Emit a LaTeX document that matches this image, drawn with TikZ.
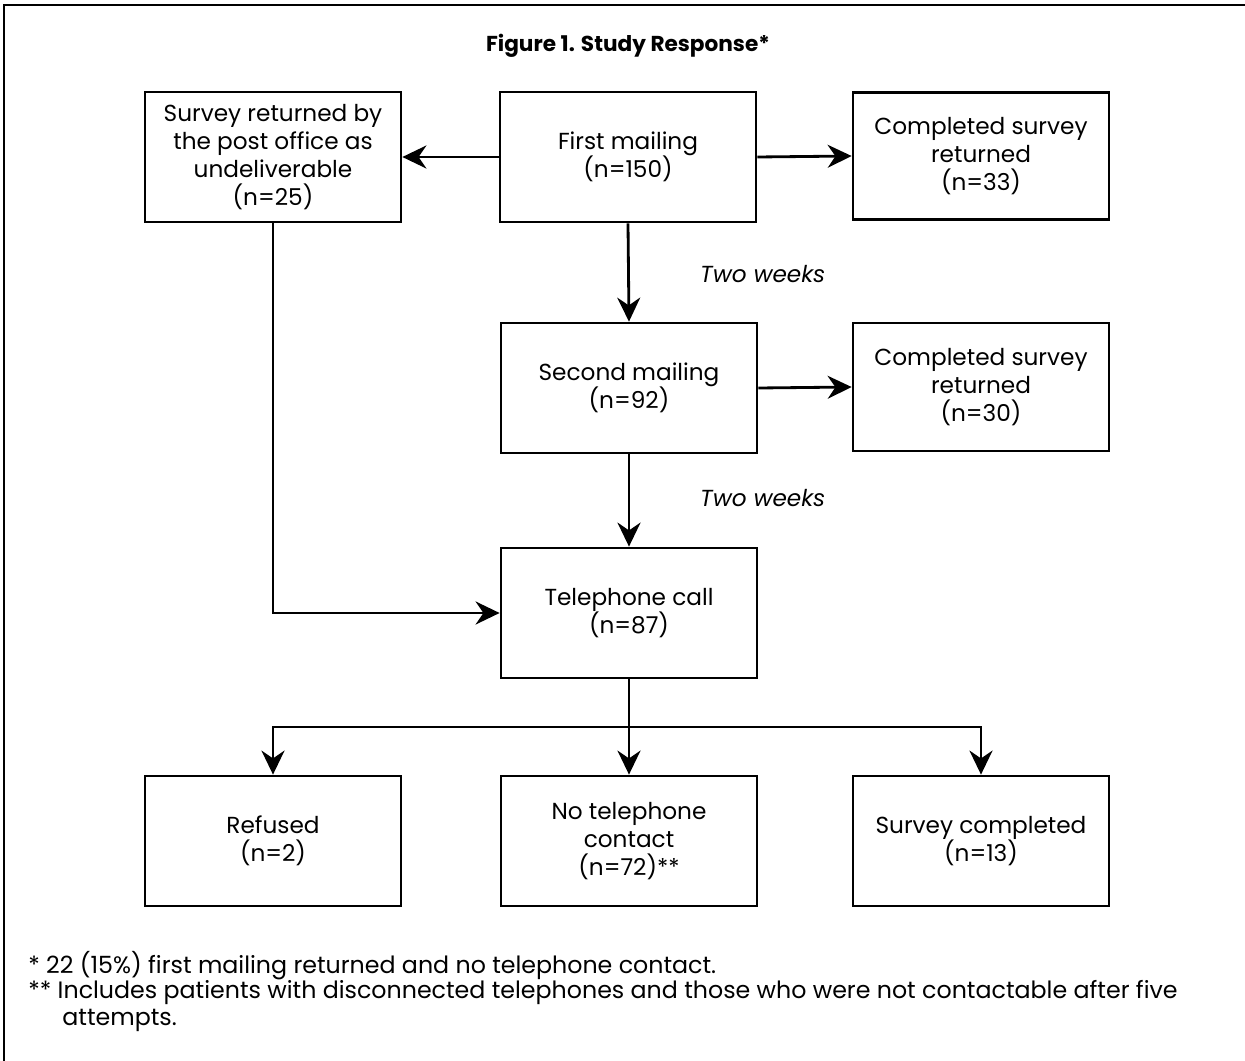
\documentclass[tikz,border=0pt]{standalone}
\usepackage{fontspec}
\setmainfont{Poppins}
\usetikzlibrary{arrows.meta}

\tikzset{
  flowbox/.style={draw, line width=1.6pt, minimum width=5.12cm, minimum height=2.6cm,
    align=center, inner sep=0pt, font=\fontsize{13.2}{16}\selectfont},
  flowarrow/.style={-{Stealth[length=4.8mm,width=4.6mm]}, line width=1.6pt},
  weeklabel/.style={anchor=west, font=\fontsize{13.2}{16}\selectfont\itshape},
  footlabel/.style={anchor=west, inner sep=0pt, font=\fontsize{13.5}{15}\selectfont}
}

\begin{document}
\begin{tikzpicture}[x=0.02cm, y=-0.02cm]
\useasboundingbox (0,0) rectangle (1245,1061);

% Frame (top and left only)
\draw[line width=1.3pt] (4,1061) -- (4,5) -- (1245,5);

% Title
\node[font=\fontsize{12.3}{14}\selectfont\bfseries] (title) at (628,46) {Figure 1. Study Response*};

% Boxes
\node[flowbox] (undeliv) at (273,157) {Survey returned by\\the post office as\\undeliverable\\(n=25)};
\node[flowbox] (first) at (628,157) {First mailing\\(n=150)};
\node[flowbox, minimum height=2.54cm] (compA) at (981,156) {Completed survey\\returned\\(n=33)};
\node[flowbox] (second) at (629,388) {Second mailing\\(n=92)};
\node[flowbox, minimum height=2.56cm] (compB) at (981,387) {Completed survey\\returned\\(n=30)};
\node[flowbox] (phone) at (629,613) {Telephone call\\(n=87)};
\node[flowbox] (refused) at (273,841) {Refused\\(n=2)};
\node[flowbox] (nocontact) at (629,841) {No telephone\\contact\\(n=72)**};
\node[flowbox] (done) at (981,841) {Survey completed\\(n=13)};

% Connectors
\draw[flowarrow] (first.west) -- (undeliv.east);
\draw[flowarrow] (first.east) -- (compA.west);
\draw[flowarrow] (first.south) -- (second.north);
\draw[flowarrow] (second.east) -- (compB.west);
\draw[flowarrow] (second.south) -- (phone.north);
\draw[flowarrow] (undeliv.south) |- (phone.west);

% Split below telephone call
\coordinate (split) at (629,727);
\draw[line width=1.6pt] (phone.south) -- (split);
\draw[flowarrow] (split) -| (refused.north);
\draw[flowarrow] (split) -- (nocontact.north);
\draw[flowarrow] (split) -| (done.north);

% Time labels
\node[weeklabel] (weekA) at (694,274) {Two weeks};
\node[weeklabel] (weekB) at (694,498) {Two weeks};

% Footnotes
\node[footlabel] (noteA) at (28,966) {* 22 (15\%) first mailing returned and no telephone contact.};
\node[footlabel] (noteB) at (28,993) {** Includes patients with disconnected telephones and those who were not contactable after five};
\node[footlabel] (noteC) at (62,1020) {attempts.};

\end{tikzpicture}
\end{document}
